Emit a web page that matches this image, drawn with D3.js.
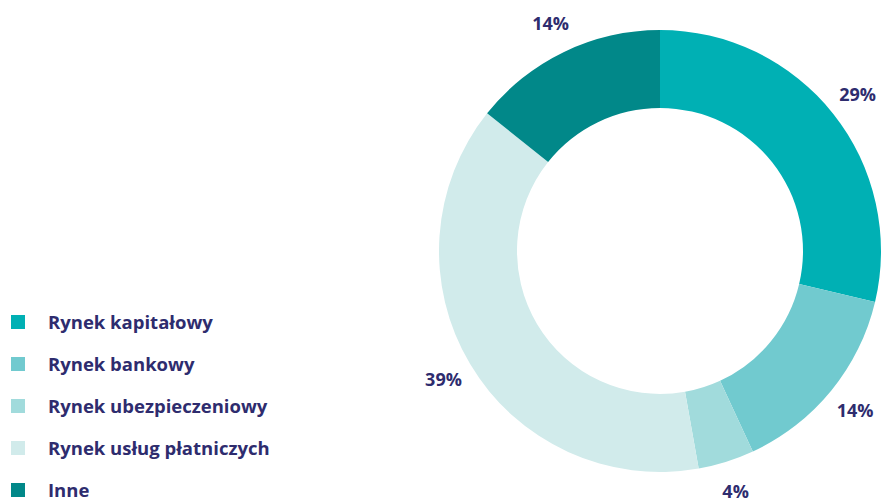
<!DOCTYPE html>
<html>
<head>
<meta charset="utf-8">
<script src="https://cdn.jsdelivr.net/npm/d3@7"></script>
<style>
    body { margin: 0; background: #fff; }
    svg { display: block; }
</style>
</head>
<body>
<svg id="chart" width="884" height="503"></svg>
<script>
// data
var categories = ["Rynek kapitałowy", "Rynek bankowy", "Rynek ubezpieczeniowy", "Rynek usług płatniczych", "Inne"];
var shares = [28.7, 14.4, 4.1, 38.5, 14.3];
var colors = ["#00b0b4", "#71cacf", "#a1dbdc", "#d1ebeb", "#018889"];

var svg = d3.select("#chart");

var cx = 660, cy = 251,
    outerR = 221, innerR = 143,
    labelR = 252;

var textColor = "#2e2c6e";
var font = "'Open Sans', sans-serif";

var data = categories.map(function (c, i) { return { name: c, value: shares[i], color: colors[i] }; });

var pie = d3.pie()
    .sort(null)
    .value(function (d) { return d.value; });

var arc = d3.arc()
    .innerRadius(innerR)
    .outerRadius(outerR);

var labelArc = d3.arc()
    .innerRadius(labelR)
    .outerRadius(labelR);

var g = svg.append("g")
    .attr("transform", "translate(" + cx + "," + cy + ")");

var arcs = pie(data);

g.selectAll("path")
    .data(arcs)
    .enter().append("path")
    .attr("d", arc)
    .attr("fill", function (d) { return d.data.color; });

// percent labels outside the ring
g.selectAll("text")
    .data(arcs)
    .enter().append("text")
    .attr("transform", function (d) { return "translate(" + labelArc.centroid(d) + ")"; })
    .attr("text-anchor", "middle")
    .attr("dy", "0.36em")
    .attr("font-family", font)
    .attr("font-weight", 700)
    .attr("font-size", 18)
    .attr("fill", textColor)
    .text(function (d) { return Math.round(d.data.value) + "%"; });

// legend
var legendY = d3.scalePoint()
    .domain(categories)
    .range([322, 490]);

var legend = svg.append("g")
    .selectAll("g")
    .data(data)
    .enter().append("g")
    .attr("transform", function (d) { return "translate(0," + legendY(d.name) + ")"; });

legend.append("rect")
    .attr("x", 11)
    .attr("y", -7)
    .attr("width", 14)
    .attr("height", 14)
    .attr("fill", function (d) { return d.color; });

legend.append("text")
    .attr("x", 48)
    .attr("dy", "0.36em")
    .attr("font-family", font)
    .attr("font-weight", 700)
    .attr("font-size", 18.5)
    .attr("fill", textColor)
    .text(function (d) { return d.name; });
</script>
</body>
</html>
